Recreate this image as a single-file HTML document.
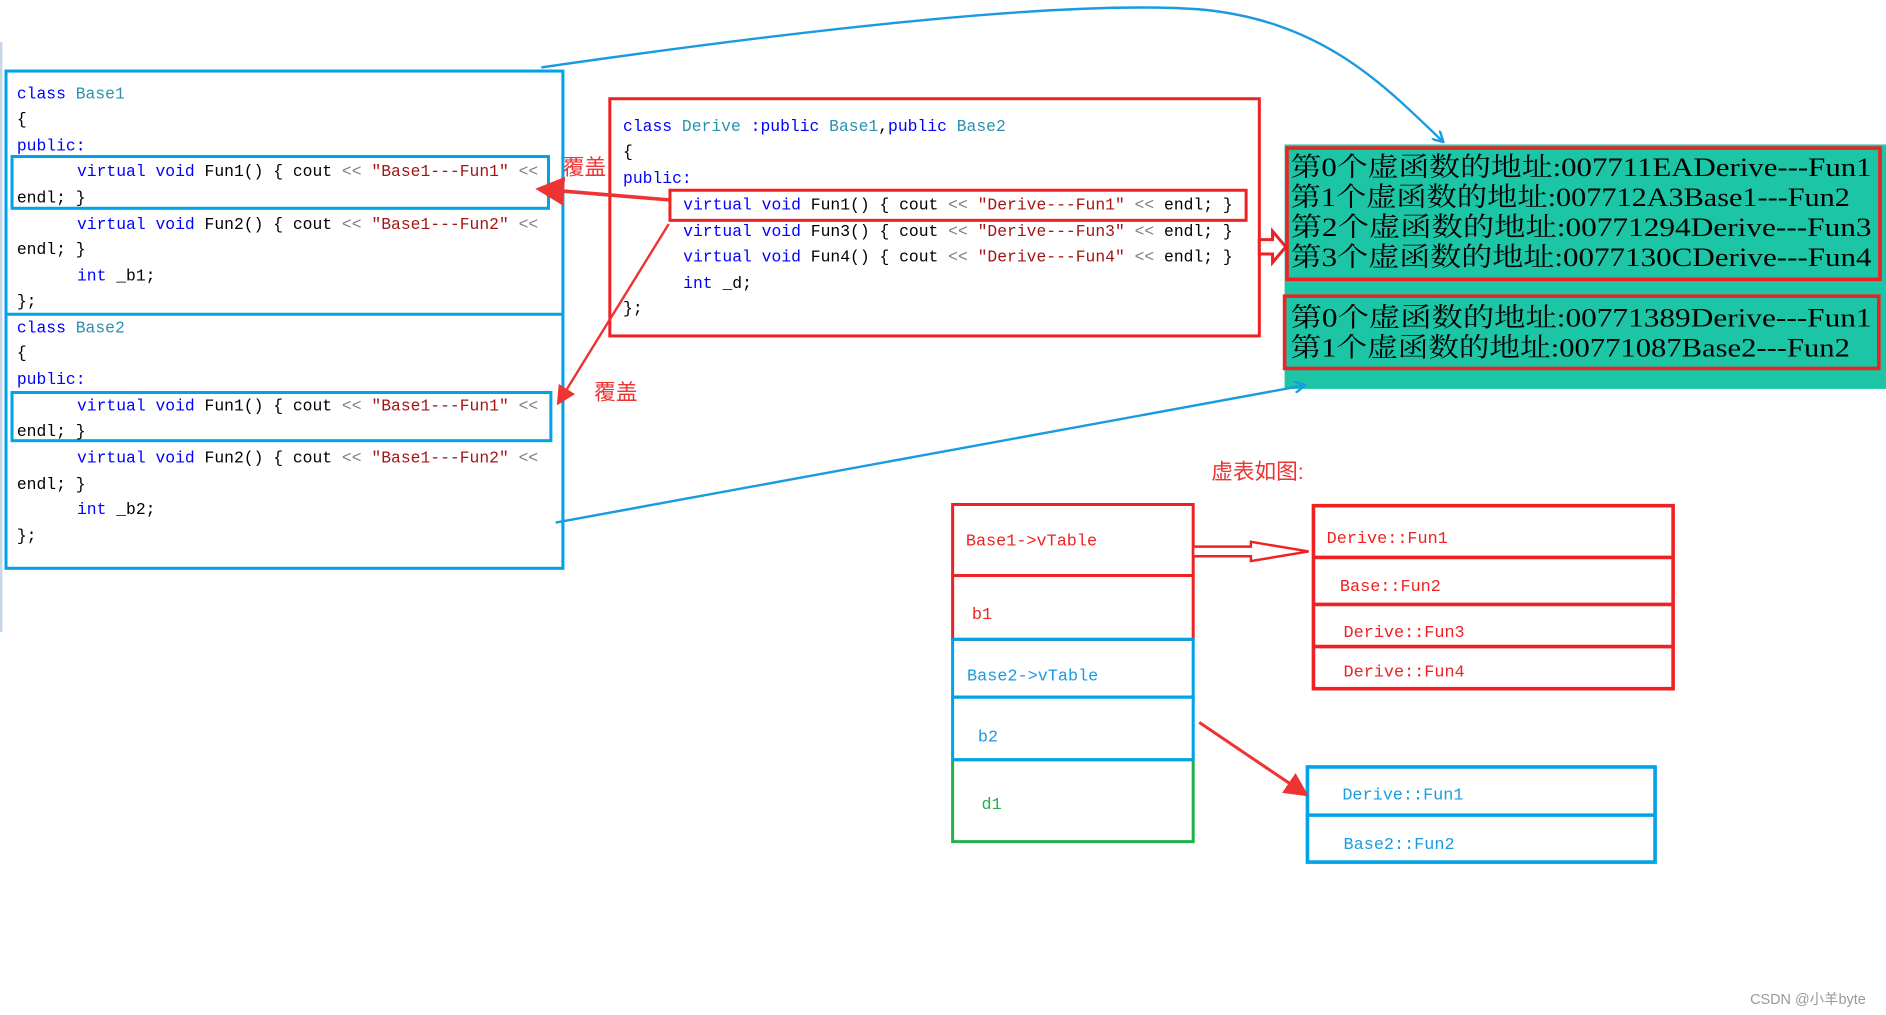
<!DOCTYPE html>
<html><head><meta charset="utf-8"><style>
html,body{margin:0;padding:0;background:#fff;width:1886px;height:1015px;overflow:hidden}
svg{display:block}
.c{font-family:"Liberation Mono",monospace;font-size:13.6px}
.k{fill:#0000ff}.t{fill:#2b91af}.s{fill:#a31515}.g{fill:#808080}.b{fill:#000}
.m{font-family:"Liberation Mono",monospace;font-size:14px}
.z{font-family:"Liberation Serif","Noto Serif CJK SC",serif;font-size:22px;fill:#000}
.cn{font-family:"Liberation Sans","Noto Sans CJK SC",sans-serif;font-size:18px;fill:#ee3333}
</style></head><body>
<svg width="1886" height="1015" viewBox="0 0 1568 843" preserveAspectRatio="none" xmlns="http://www.w3.org/2000/svg">
<defs>
<marker id="ar" markerWidth="8" markerHeight="8" refX="7" refY="4" orient="auto" markerUnits="strokeWidth"><path d="M0,0 L8,4 L0,8 z" fill="#ee3333"/></marker>
<marker id="ab" markerWidth="10" markerHeight="10" refX="9" refY="5" orient="auto" markerUnits="userSpaceOnUse"><path d="M0,0 L9,5 L0,10" fill="none" stroke="#1a9be0" stroke-width="2"/></marker>
</defs>
<line x1="1" y1="35" x2="1" y2="525" stroke="#c8d4e8" stroke-width="2"/>
<!-- left blue box -->
<rect x="5" y="59" width="463" height="413" fill="none" stroke="#00a2e8" stroke-width="2.5"/>
<line x1="5" y1="261" x2="468" y2="261" stroke="#00a2e8" stroke-width="2.5"/>
<rect x="10" y="130" width="446" height="43" fill="none" stroke="#00a2e8" stroke-width="2.5"/>
<rect x="10" y="326" width="448" height="40" fill="none" stroke="#00a2e8" stroke-width="2.5"/>
<g class="c">
<text x="14" y="82"><tspan class="k">class</tspan> <tspan class="t">Base1</tspan></text>
<text x="14" y="103" class="b">{</text>
<text x="14" y="125" class="k">public:</text>
<text x="64" y="146"><tspan class="k">virtual void</tspan> <tspan class="b">Fun1() { cout</tspan> <tspan class="g">&lt;&lt;</tspan> <tspan class="s">"Base1---Fun1"</tspan> <tspan class="g">&lt;&lt;</tspan></text>
<text x="14" y="168" class="b">endl; }</text>
<text x="64" y="190"><tspan class="k">virtual void</tspan> <tspan class="b">Fun2() { cout</tspan> <tspan class="g">&lt;&lt;</tspan> <tspan class="s">"Base1---Fun2"</tspan> <tspan class="g">&lt;&lt;</tspan></text>
<text x="14" y="211" class="b">endl; }</text>
<text x="64" y="233"><tspan class="k">int</tspan> <tspan class="b">_b1;</tspan></text>
<text x="14" y="254" class="b">};</text>
<text x="14" y="276"><tspan class="k">class</tspan> <tspan class="t">Base2</tspan></text>
<text x="14" y="297" class="b">{</text>
<text x="14" y="319" class="k">public:</text>
<text x="64" y="341"><tspan class="k">virtual void</tspan> <tspan class="b">Fun1() { cout</tspan> <tspan class="g">&lt;&lt;</tspan> <tspan class="s">"Base1---Fun1"</tspan> <tspan class="g">&lt;&lt;</tspan></text>
<text x="14" y="362" class="b">endl; }</text>
<text x="64" y="384"><tspan class="k">virtual void</tspan> <tspan class="b">Fun2() { cout</tspan> <tspan class="g">&lt;&lt;</tspan> <tspan class="s">"Base1---Fun2"</tspan> <tspan class="g">&lt;&lt;</tspan></text>
<text x="14" y="406" class="b">endl; }</text>
<text x="64" y="427"><tspan class="k">int</tspan> <tspan class="b">_b2;</tspan></text>
<text x="14" y="449" class="b">};</text>
</g>
<!-- derive box -->
<rect x="507" y="82" width="540" height="197" fill="none" stroke="#ee2222" stroke-width="2.5"/>
<rect x="557" y="158" width="479" height="25" fill="none" stroke="#ee2222" stroke-width="2.5"/>
<g class="c">
<text x="518" y="109"><tspan class="k">class</tspan> <tspan class="t">Derive</tspan> <tspan class="k">:public</tspan> <tspan class="t">Base1</tspan><tspan class="b">,</tspan><tspan class="k">public</tspan> <tspan class="t">Base2</tspan></text>
<text x="518" y="130" class="b">{</text>
<text x="518" y="152" class="k">public:</text>
<text x="568" y="174"><tspan class="k">virtual void</tspan> <tspan class="b">Fun1() { cout</tspan> <tspan class="g">&lt;&lt;</tspan> <tspan class="s">"Derive---Fun1"</tspan> <tspan class="g">&lt;&lt;</tspan> <tspan class="b">endl; }</tspan></text>
<text x="568" y="196"><tspan class="k">virtual void</tspan> <tspan class="b">Fun3() { cout</tspan> <tspan class="g">&lt;&lt;</tspan> <tspan class="s">"Derive---Fun3"</tspan> <tspan class="g">&lt;&lt;</tspan> <tspan class="b">endl; }</tspan></text>
<text x="568" y="217"><tspan class="k">virtual void</tspan> <tspan class="b">Fun4() { cout</tspan> <tspan class="g">&lt;&lt;</tspan> <tspan class="s">"Derive---Fun4"</tspan> <tspan class="g">&lt;&lt;</tspan> <tspan class="b">endl; }</tspan></text>
<text x="568" y="239"><tspan class="k">int</tspan> <tspan class="b">_d;</tspan></text>
<text x="518" y="260" class="b">};</text>
</g>
<!-- teal console -->
<rect x="1068" y="120" width="500" height="203" fill="#1bc5a5"/>
<rect x="1070" y="123" width="493" height="109" fill="none" stroke="#ee2222" stroke-width="3"/>
<rect x="1068" y="246" width="494" height="60" fill="none" stroke="#ee2222" stroke-width="3"/>
<g class="z">
<text x="1073" y="146" textLength="483" lengthAdjust="spacingAndGlyphs">第0个虚函数的地址:007711EADerive---Fun1</text>
<text x="1073" y="171" textLength="465" lengthAdjust="spacingAndGlyphs">第1个虚函数的地址:007712A3Base1---Fun2</text>
<text x="1073" y="196" textLength="483" lengthAdjust="spacingAndGlyphs">第2个虚函数的地址:00771294Derive---Fun3</text>
<text x="1073" y="221" textLength="483" lengthAdjust="spacingAndGlyphs">第3个虚函数的地址:0077130CDerive---Fun4</text>
<text x="1073" y="271" textLength="483" lengthAdjust="spacingAndGlyphs">第0个虚函数的地址:00771389Derive---Fun1</text>
<text x="1073" y="296" textLength="465" lengthAdjust="spacingAndGlyphs">第1个虚函数的地址:00771087Base2---Fun2</text>
</g>
<!-- blue connectors -->
<path d="M450,56 C700,20 900,0 1000,8 C1100,18 1150,70 1200,118" fill="none" stroke="#1a9be0" stroke-width="2" marker-end="url(#ab)"/>
<line x1="462" y1="434" x2="1085" y2="320" stroke="#1a9be0" stroke-width="2" marker-end="url(#ab)"/>
<!-- red arrows -->
<line x1="556" y1="166" x2="448" y2="157" stroke="#ee3333" stroke-width="3" marker-end="url(#ar)"/>
<line x1="556" y1="186" x2="464" y2="335" stroke="#ee3333" stroke-width="2" marker-end="url(#ar)"/>
<text x="468" y="145" class="cn">覆盖</text>
<text x="494" y="332" class="cn">覆盖</text>
<path d="M1047,199 L1058,199 L1058,192 L1069,205 L1058,218 L1058,211 L1047,211 z" fill="#fff" stroke="#ee2222" stroke-width="2.5"/>
<text x="1007" y="398" class="cn">虚表如图:</text>
<!-- memory layout -->
<rect x="792" y="419" width="200" height="59" fill="none" stroke="#ee2222" stroke-width="2.5"/>
<rect x="792" y="478" width="200" height="53" fill="none" stroke="#ee2222" stroke-width="2.5"/>
<rect x="792" y="631" width="200" height="68" fill="none" stroke="#22b14c" stroke-width="2.5"/>
<rect x="792" y="531" width="200" height="48" fill="none" stroke="#00a2e8" stroke-width="2.5"/>
<rect x="792" y="579" width="200" height="52" fill="none" stroke="#00a2e8" stroke-width="2.5"/>
<g class="m">
<text x="803" y="453" fill="#ee2222">Base1-&gt;vTable</text>
<text x="808" y="514" fill="#ee2222">b1</text>
<text x="804" y="565" fill="#1a9be0">Base2-&gt;vTable</text>
<text x="813" y="616" fill="#1a9be0">b2</text>
<text x="816" y="672" fill="#22b14c">d1</text>
</g>
<rect x="1092" y="420" width="299" height="152" fill="none" stroke="#ee2222" stroke-width="3"/>
<line x1="1092" y1="463" x2="1391" y2="463" stroke="#ee2222" stroke-width="3"/>
<line x1="1092" y1="502" x2="1391" y2="502" stroke="#ee2222" stroke-width="3"/>
<line x1="1092" y1="537" x2="1391" y2="537" stroke="#ee2222" stroke-width="3"/>
<g class="m" fill="#ee2222">
<text x="1103" y="451">Derive::Fun1</text>
<text x="1114" y="491">Base::Fun2</text>
<text x="1117" y="529">Derive::Fun3</text>
<text x="1117" y="562">Derive::Fun4</text>
</g>
<path d="M993,454 L1040,454 L1040,450 L1088,458 L1040,466 L1040,462 L993,462" fill="#fff" stroke="#ee2222" stroke-width="2"/>
<rect x="1087" y="637" width="289" height="79" fill="none" stroke="#00a2e8" stroke-width="3"/>
<line x1="1087" y1="677" x2="1376" y2="677" stroke="#00a2e8" stroke-width="3"/>
<g class="m" fill="#1a9be0">
<text x="1116" y="664">Derive::Fun1</text>
<text x="1117" y="705">Base2::Fun2</text>
</g>
<line x1="997" y1="600" x2="1086" y2="660" stroke="#ee3333" stroke-width="2.5" marker-end="url(#ar)"/>
<text x="1455" y="834" font-family="Liberation Sans,Noto Sans CJK SC,sans-serif" font-size="12" fill="#999">CSDN @小羊byte</text>
</svg>
</body></html>
